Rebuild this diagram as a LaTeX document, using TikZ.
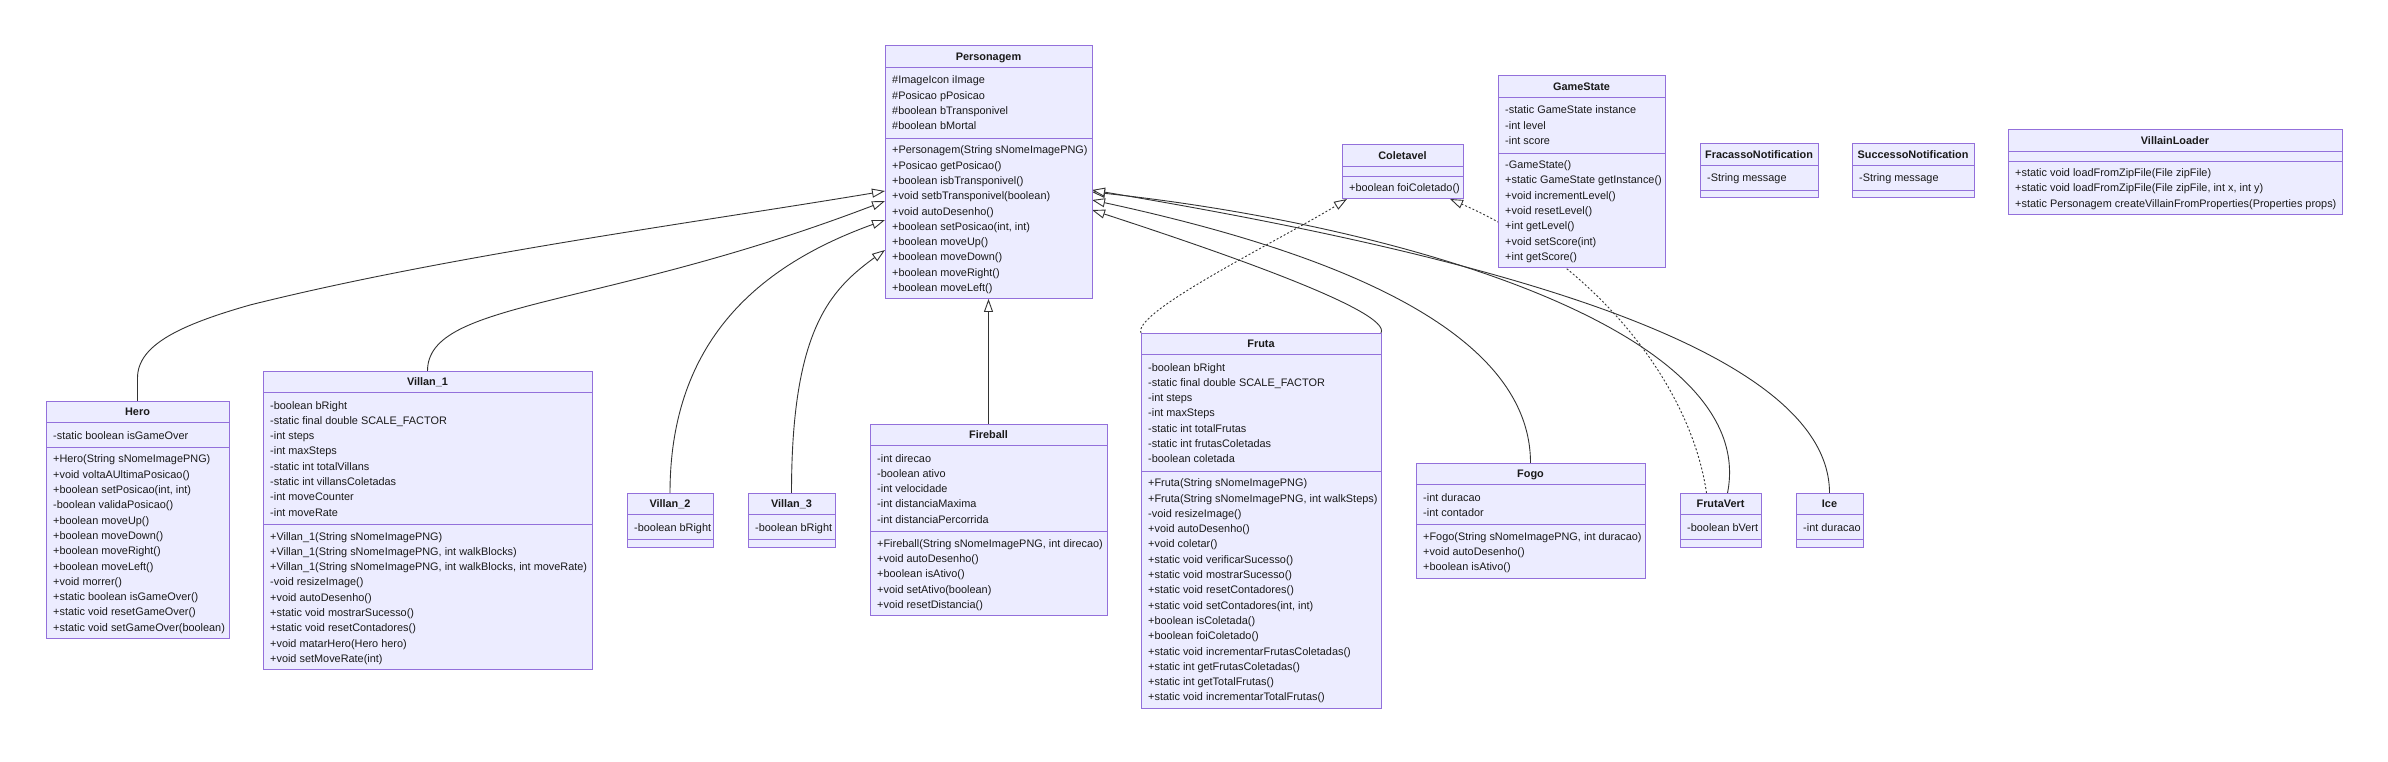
\documentclass[tikz,border=0pt]{standalone}
\usepackage{fontspec}
\setmainfont{Liberation Sans}
\usetikzlibrary{arrows.meta}
\pgfdeclarelayer{background}
\pgfsetlayers{background,main}
\definecolor{boxfill}{HTML}{ECECFF}
\definecolor{boxdraw}{HTML}{9370DB}
\definecolor{linecol}{HTML}{333333}
\definecolor{txtcol}{HTML}{1A1A1A}
\tikzset{
 classbox/.style={draw=boxdraw, fill=boxfill, line width=1pt, inner sep=0pt, outer sep=0pt},
 sepline/.style={draw=boxdraw, line width=1pt},
 txt/.style={anchor=base west, inner sep=0pt, text=txtcol, font=\fontsize{10.9}{13}\selectfont},
 titletxt/.style={anchor=base, inner sep=0pt, text=txtcol, font=\fontsize{10.9}{13}\selectfont\bfseries},
 inherit/.style={draw=linecol, line width=0.9pt, -{Triangle[length=13pt,width=9pt,fill=white]}},
 realize/.style={inherit, dash pattern=on 2pt off 2pt},
}
% name, x1, x2, top, title, attrs, nattr, methods, nmeth
\newcommand{\umlclass}[9]{%
 \pgfmathsetmacro\yA{#4+21.5}%
 \pgfmathsetmacro\yB{\yA+15.3*#7+9.7}%
 \pgfmathsetmacro\yC{\yB+15.3*#9+7.5}%
 \node[classbox, minimum width={(#3-#2)*1pt}, minimum height={(\yC-#4)*1pt}, anchor=north west] (#1) at (#2,#4) {};
 \node[titletxt] (#1-title) at ({(#2+#3)/2}, {#4+14.5}) {#5};
 \draw[sepline] (#2,\yA) -- (#3,\yA);
 \draw[sepline] (#2,\yB) -- (#3,\yB);
 \ifnum#7>0
  \foreach \t [count=\i] in {#6} {\node[txt] (#1-a\i) at ({#2+7}, {\yA+16.5+(\i-1)*15.3}) {\t};}
 \fi
 \ifnum#9>0
  \foreach \t [count=\i] in {#8} {\node[txt] (#1-m\i) at ({#2+7}, {\yB+15.4+(\i-1)*15.3}) {\t};}
 \fi
}
\begin{document}
\begin{tikzpicture}[x=1pt, y=-1pt]
\useasboundingbox (0,0) rectangle (2388,762);

\umlclass{pers}{885}{1092}{46}{Personagem}
 {{\#ImageIcon iImage},{\#Posicao pPosicao},{\#boolean bTransponivel},{\#boolean bMortal}}{4}
 {{+Personagem(String sNomeImagePNG)},{+Posicao getPosicao()},{+boolean isbTransponivel()},{+void setbTransponivel(boolean)},{+void autoDesenho()},{+boolean setPosicao(int, int)},{+boolean moveUp()},{+boolean moveDown()},{+boolean moveRight()},{+boolean moveLeft()}}{10}

\umlclass{coletavel}{1342}{1463}{145}{Coletavel}{}{0}
 {{+boolean foiColetado()}}{1}

\umlclass{gamestate}{1498}{1665}{76}{GameState}
 {{-static GameState instance},{-int level},{-int score}}{3}
 {{-GameState()},{+static GameState getInstance()},{+void incrementLevel()},{+void resetLevel()},{+int getLevel()},{+void setScore(int)},{+int getScore()}}{7}

\umlclass{fracasso}{1700}{1818}{144}{FracassoNotification}
 {{-String message}}{1}{}{0}

\umlclass{sucesso}{1852}{1974}{144}{SuccessoNotification}
 {{-String message}}{1}{}{0}

\umlclass{loader}{2008}{2342}{130}{VillainLoader}{}{0}
 {{+static void loadFromZipFile(File zipFile)},{+static void loadFromZipFile(File zipFile, int x, int y)},{+static Personagem createVillainFromProperties(Properties props)}}{3}

\umlclass{hero}{46}{229}{401}{Hero}
 {{-static boolean isGameOver}}{1}
 {{+Hero(String sNomeImagePNG)},{+void voltaAUltimaPosicao()},{+boolean setPosicao(int, int)},{-boolean validaPosicao()},{+boolean moveUp()},{+boolean moveDown()},{+boolean moveRight()},{+boolean moveLeft()},{+void morrer()},{+static boolean isGameOver()},{+static void resetGameOver()},{+static void setGameOver(boolean)}}{12}

\umlclass{villan1}{263}{592}{371}{Villan\_1}
 {{-boolean bRight},{-static final double SCALE\_FACTOR},{-int steps},{-int maxSteps},{-static int totalVillans},{-static int villansColetadas},{-int moveCounter},{-int moveRate}}{8}
 {{+Villan\_1(String sNomeImagePNG)},{+Villan\_1(String sNomeImagePNG, int walkBlocks)},{+Villan\_1(String sNomeImagePNG, int walkBlocks, int moveRate)},{-void resizeImage()},{+void autoDesenho()},{+static void mostrarSucesso()},{+static void resetContadores()},{+void matarHero(Hero hero)},{+void setMoveRate(int)}}{9}

\umlclass{villan2}{627}{713}{493}{Villan\_2}
 {{-boolean bRight}}{1}{}{0}

\umlclass{villan3}{748}{835}{493}{Villan\_3}
 {{-boolean bRight}}{1}{}{0}

\umlclass{fireball}{870}{1107}{424}{Fireball}
 {{-int direcao},{-boolean ativo},{-int velocidade},{-int distanciaMaxima},{-int distanciaPercorrida}}{5}
 {{+Fireball(String sNomeImagePNG, int direcao)},{+void autoDesenho()},{+boolean isAtivo()},{+void setAtivo(boolean)},{+void resetDistancia()}}{5}

\umlclass{fruta}{1141}{1381}{333}{Fruta}
 {{-boolean bRight},{-static final double SCALE\_FACTOR},{-int steps},{-int maxSteps},{-static int totalFrutas},{-static int frutasColetadas},{-boolean coletada}}{7}
 {{+Fruta(String sNomeImagePNG)},{+Fruta(String sNomeImagePNG, int walkSteps)},{-void resizeImage()},{+void autoDesenho()},{+void coletar()},{+static void verificarSucesso()},{+static void mostrarSucesso()},{+static void resetContadores()},{+static void setContadores(int, int)},{+boolean isColetada()},{+boolean foiColetado()},{+static void incrementarFrutasColetadas()},{+static int getFrutasColetadas()},{+static int getTotalFrutas()},{+static void incrementarTotalFrutas()}}{15}

\umlclass{fogo}{1416}{1645}{463}{Fogo}
 {{-int duracao},{-int contador}}{2}
 {{+Fogo(String sNomeImagePNG, int duracao)},{+void autoDesenho()},{+boolean isAtivo()}}{3}

\umlclass{frutavert}{1680}{1761}{493}{FrutaVert}
 {{-boolean bVert}}{1}{}{0}

\umlclass{ice}{1796}{1863}{493}{Ice}
 {{-int duracao}}{1}{}{0}

\begin{pgfonlayer}{background}
 \fill[white] (0,0) rectangle (2388,762);
 % inheritance to Personagem (left side)
 \draw[inherit] (hero.north) -- (137.5,378) .. controls (137.5,345) and (180,325) .. (250,305)
   .. controls (450,255) and (700,222) .. ([yshift=-145pt]pers.north west);
 \draw[inherit] (villan1.north) .. controls (427.5,300) and (600,310) .. ([yshift=-155pt]pers.north west);
 \draw[inherit] (villan2.north) .. controls (670,340) and (760,265) .. ([yshift=-174pt]pers.north west);
 \draw[inherit] (villan3.north) .. controls (791.5,330) and (830,290) .. ([yshift=-204pt]pers.north west);
 \draw[inherit] (fireball.north) -- (pers.south);
 % inheritance to Personagem (right side)
 \draw[inherit] (fruta.north east) .. controls (1392,312) and (1230,255) .. ([yshift=-164pt]pers.north east);
 \draw[inherit] (fogo.north) .. controls (1530.5,320) and (1300,245) .. ([yshift=-154pt]pers.north east);
 \draw[inherit] ([xshift=7pt]frutavert.north) .. controls (1760,330) and (1400,225) .. ([yshift=-146pt]pers.north east);
 \draw[inherit] (ice.north) .. controls (1829.5,340) and (1450,250) .. ([yshift=-144pt]pers.north east);
 % realization of Coletavel
 \draw[realize] (fruta.north west) .. controls (1132,312) and (1280,240) .. ([xshift=5pt]coletavel.south west);
 \draw[realize] ([xshift=-14pt]frutavert.north) .. controls (1690,380) and (1590,260) .. ([xshift=-13pt]coletavel.south east);
\end{pgfonlayer}
\end{tikzpicture}
\end{document}
